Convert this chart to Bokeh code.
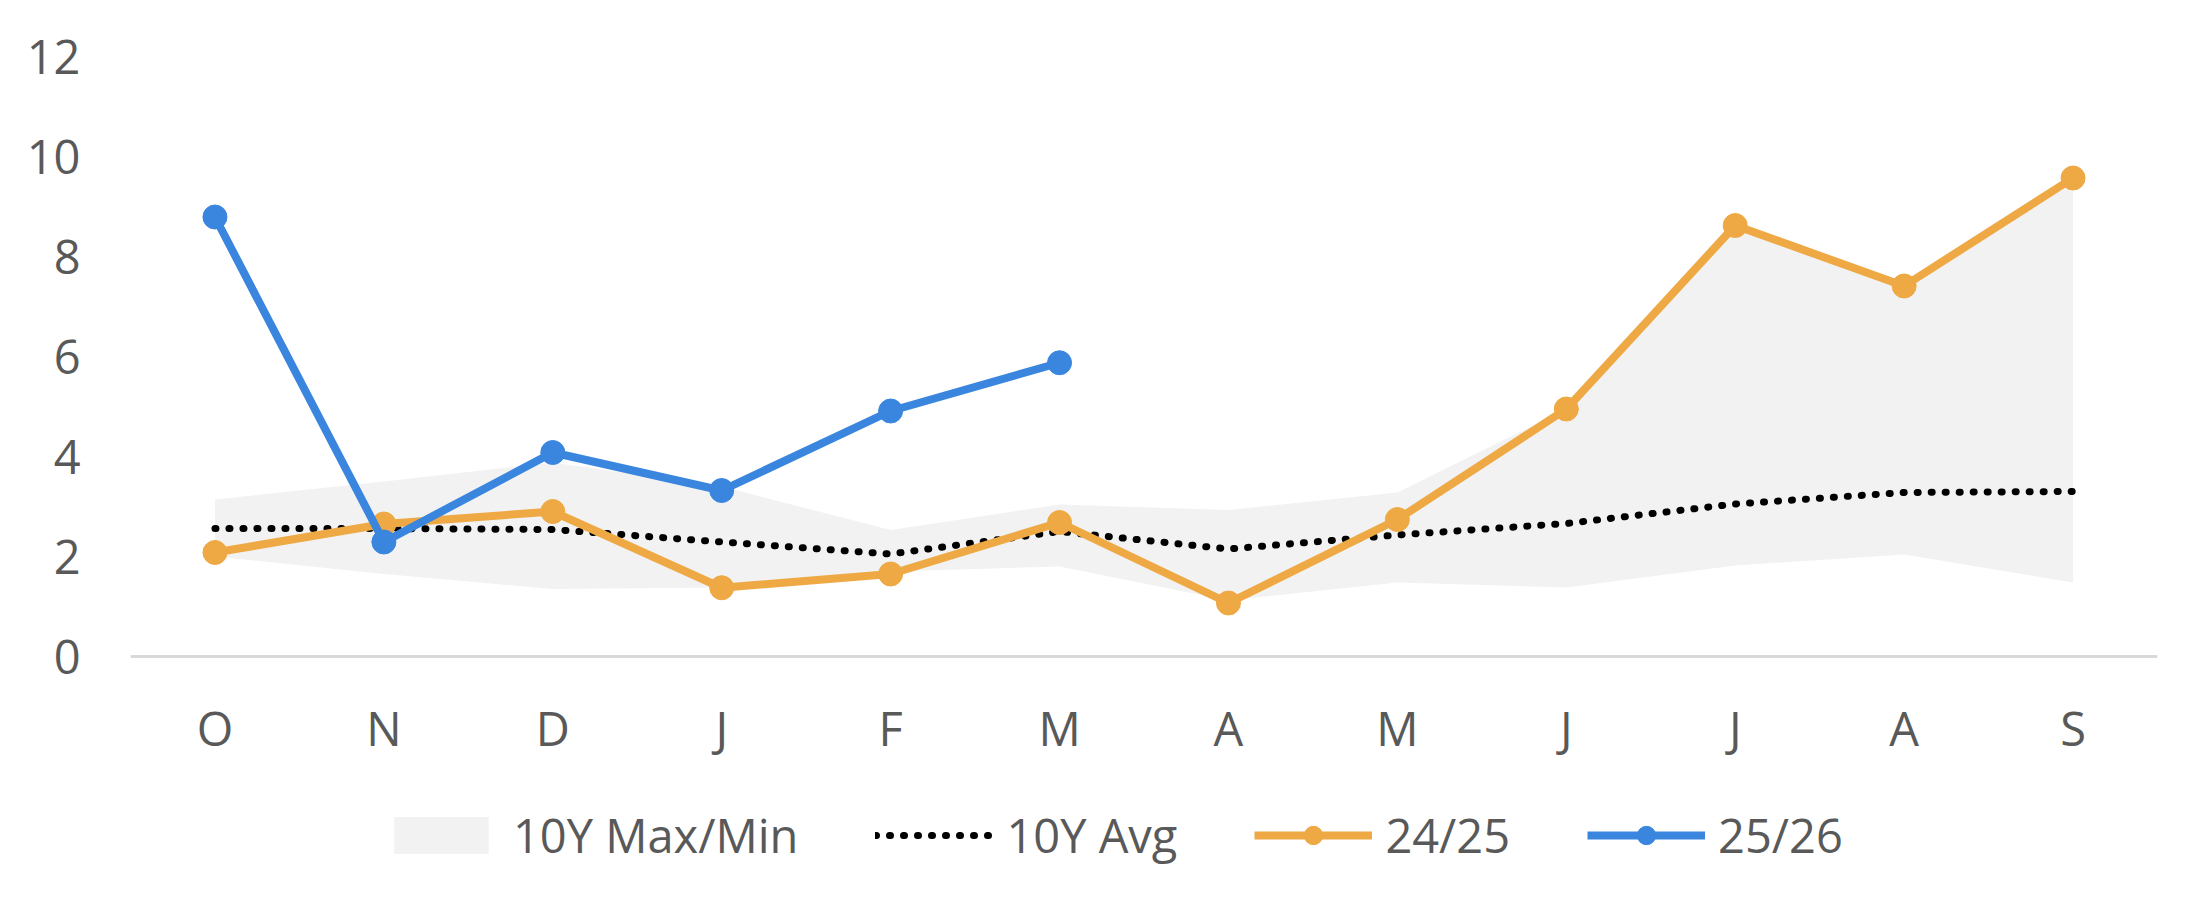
from bokeh.plotting import figure
from bokeh.models import FixedTicker, Legend, LegendItem, Range1d
from bokeh.embed import file_html
from bokeh.resources import INLINE

months = ["O", "N", "D", "J", "F", "M", "A", "M", "J", "J", "A", "S"]
band_max = [3.14, 3.5, 3.88, 3.4, 2.53, 3.04, 2.93, 3.28, 4.95, 8.62, 7.41, 9.57]
band_min = [2.0, 1.65, 1.35, 1.38, 1.70, 1.80, 1.12, 1.48, 1.38, 1.82, 2.04, 1.48]
avg_10y = [2.56, 2.56, 2.54, 2.29, 2.05, 2.50, 2.15, 2.43, 2.66, 3.05, 3.28, 3.30]
s2425 = [2.08, 2.65, 2.90, 1.375, 1.65, 2.68, 1.07, 2.74, 4.95, 8.62, 7.41, 9.57]
s2526 = [8.79, 2.29, 4.08, 3.32, 4.91, 5.875]
y_ticks = [0, 2, 4, 6, 8, 10, 12]

xs = list(range(len(months)))
FONT = "Open Sans"
TXT = "#595959"
ORANGE = "#EEA944"
BLUE = "#3A86DF"

W, H = 2192, 893
TOP, BOTTOM, LEFT, RIGHT = 56, 10, 130, 35
PX_PER_UNIT = 50.0
frame_h = H - TOP - BOTTOM
y0 = 12 - frame_h / PX_PER_UNIT

p = figure(width=W, height=H, output_backend="svg", toolbar_location=None,
           x_range=Range1d(-0.5, 11.5), y_range=Range1d(y0, 12),
           min_border_left=LEFT, min_border_right=RIGHT, min_border_top=TOP, min_border_bottom=BOTTOM)
p.outline_line_color = None
p.xgrid.visible = False
p.ygrid.visible = False
p.background_fill_color = "white"

band = p.varea(x=xs, y1=band_min, y2=band_max, fill_color="#F2F2F2")
avg = p.line(xs, avg_10y, line_color="black", line_width=7, line_dash="1 13", line_cap="round")
l1 = p.line(xs, s2425, line_color=ORANGE, line_width=8)
c1 = p.scatter(xs, s2425, size=24, fill_color=ORANGE, line_color=ORANGE)
xs2 = xs[:len(s2526)]
l2 = p.line(xs2, s2526, line_color=BLUE, line_width=8)
c2 = p.scatter(xs2, s2526, size=24, fill_color=BLUE, line_color=BLUE)

xa = p.xaxis[0]
xa.fixed_location = 0
xa.ticker = FixedTicker(ticks=xs)
xa.major_label_overrides = {i: m for i, m in enumerate(months)}
xa.axis_line_color = "#D9D9D9"
xa.axis_line_width = 3
xa.major_tick_line_color = None
xa.major_tick_out = 0
xa.major_tick_in = 0
xa.minor_tick_line_color = None
xa.major_label_standoff = 39
xa.major_label_text_font = FONT
xa.major_label_text_font_size = "47px"
xa.major_label_text_color = TXT

ya = p.yaxis[0]
ya.ticker = FixedTicker(ticks=y_ticks)
ya.axis_line_color = None
ya.major_tick_line_color = None
ya.major_tick_out = 0
ya.major_tick_in = 0
ya.minor_tick_line_color = None
ya.major_label_standoff = 50
ya.major_label_text_font = FONT
ya.major_label_text_font_size = "47px"
ya.major_label_text_color = TXT

legend = Legend(items=[
    LegendItem(label="10Y Max/Min", renderers=[band]),
    LegendItem(label="10Y Avg", renderers=[avg]),
    LegendItem(label="24/25", renderers=[l1, c1]),
    LegendItem(label="25/26", renderers=[l2, c2]),
], orientation="horizontal", location=(252, 16))
legend.border_line_color = None
legend.background_fill_alpha = 0
legend.padding = 0
legend.margin = 0
legend.spacing = 77
legend.label_standoff = 13
legend.glyph_width = 118
legend.glyph_height = 46
legend.label_text_font = FONT
legend.label_text_font_size = "47px"
legend.label_text_color = TXT
p.add_layout(legend, "center")

open("out.html", "w").write(file_html(p, INLINE))
